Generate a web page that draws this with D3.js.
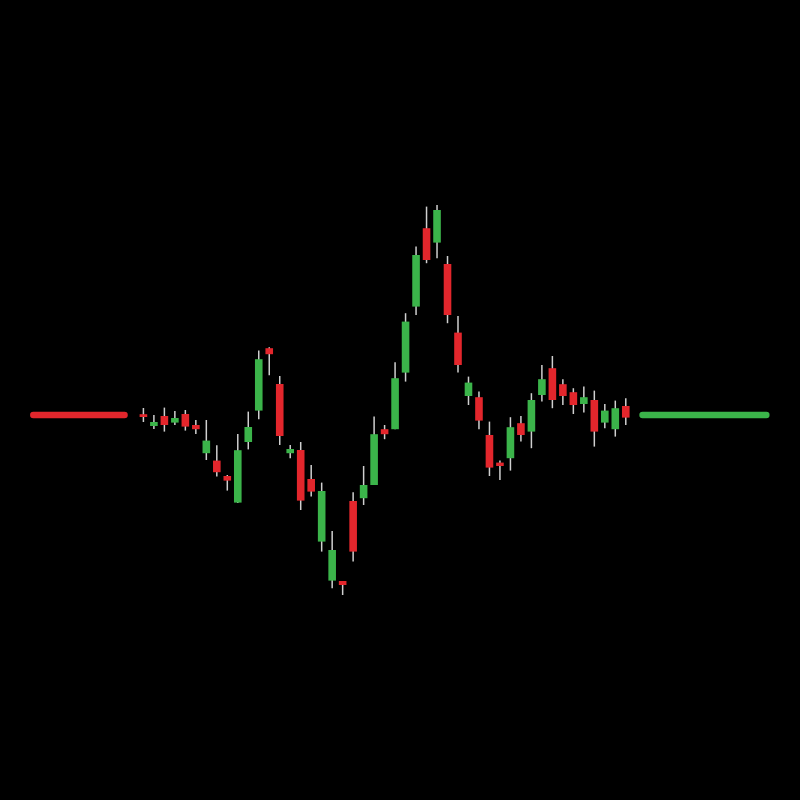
<!DOCTYPE html>
<html>
<head>
<meta charset="utf-8">
<script src="https://cdn.jsdelivr.net/npm/d3@7/dist/d3.min.js"></script>
<style>
  html, body { margin: 0; padding: 0; background: #000; }
  svg { display: block; }
</style>
</head>
<body>
<svg id="chart" width="800" height="800"></svg>
<script>
// Candle OHLC data (index 0..46)
const opens  = [100.4, 94.5, 99.5, 96.2, 100.5, 95.0, 80.9, 77.2, 69.5, 56.2, 86.5, 102.2, 133.4, 115.5, 80.9, 82.5, 68.0, 36.7, 17.2, 17.0, 57.0, 58.4, 65.0, 92.9, 92.9, 121.2, 154.2, 193.4, 186.2, 175.5, 141.2, 109.5, 108.9, 90.0, 76.2, 78.4, 95.9, 91.7, 110.0, 123.4, 115.4, 111.4, 105.5, 107.5, 96.2, 92.9, 104.5];
const closes = [99.0, 96.5, 95.0, 98.5, 94.2, 92.9, 87.2, 71.4, 67.2, 82.4, 94.0, 127.9, 130.4, 89.5, 83.0, 57.2, 61.7, 62.0, 32.5, 15.0, 31.7, 65.0, 90.4, 90.4, 118.4, 146.7, 180.0, 177.5, 202.5, 150.0, 125.0, 116.2, 97.2, 73.7, 74.5, 93.9, 90.0, 107.5, 117.9, 107.5, 109.5, 105.0, 108.9, 91.7, 102.2, 103.4, 98.7];
const highs  = [103.5, 100.0, 103.7, 102.0, 102.5, 97.5, 97.5, 84.9, 70.0, 90.5, 101.7, 132.2, 133.9, 119.5, 85.0, 86.5, 75.0, 66.2, 42.0, 17.0, 61.4, 74.5, 99.2, 95.0, 126.4, 150.9, 184.2, 204.2, 205.0, 179.5, 149.5, 119.2, 111.7, 96.7, 77.2, 98.9, 99.5, 110.9, 125.0, 129.5, 117.9, 113.4, 114.2, 112.2, 105.5, 107.2, 108.4];
const lows   = [96.5, 93.0, 91.7, 95.0, 92.2, 90.5, 77.5, 69.2, 62.2, 56.0, 82.8, 97.9, 119.9, 85.0, 78.4, 52.5, 59.2, 31.7, 13.4, 10.0, 26.7, 55.0, 65.0, 87.9, 92.9, 116.7, 150.0, 175.9, 178.4, 145.9, 121.2, 105.0, 92.9, 69.5, 67.5, 72.2, 86.7, 83.4, 106.7, 103.4, 105.0, 100.5, 101.2, 84.2, 93.4, 89.2, 95.0];

// Flat reference lines (in candle-index units and price)
const leftLine  = { from: -10.5, to: -1.8, price: 100 };
const rightLine = { from: 47.6,  to: 59.4, price: 100 };

const UP = "#3bb44a", DOWN = "#e3262c", WICK = "#cfcfcf";

const candles = opens.map((o, i) => ({ i, o, c: closes[i], h: highs[i], l: lows[i] }));

const svg = d3.select("#chart");
svg.append("rect").attr("width", 800).attr("height", 800).attr("fill", "#000");

const x = d3.scaleLinear().domain([-10.5, 59.4]).range([33.3, 766.3]);
const y = d3.scaleLinear().domain([0, 200]).range([615, 215]);
const bodyW = 7.6;

// flat lines
const line = d3.line().x(d => x(d[0])).y(d => y(d[1]));
svg.append("path")
  .attr("d", line([[leftLine.from, leftLine.price], [leftLine.to, leftLine.price]]))
  .attr("stroke", DOWN).attr("stroke-width", 6.5).attr("stroke-linecap", "round").attr("fill", "none");
svg.append("path")
  .attr("d", line([[rightLine.from, rightLine.price], [rightLine.to, rightLine.price]]))
  .attr("stroke", UP).attr("stroke-width", 6.5).attr("stroke-linecap", "round").attr("fill", "none");

const g = svg.append("g").selectAll("g").data(candles).join("g");

g.append("line")
  .attr("x1", d => x(d.i)).attr("x2", d => x(d.i))
  .attr("y1", d => y(d.h)).attr("y2", d => y(d.l))
  .attr("stroke", WICK).attr("stroke-width", 1.5);

g.append("rect")
  .attr("x", d => x(d.i) - bodyW / 2)
  .attr("width", bodyW)
  .attr("y", d => y(Math.max(d.o, d.c)))
  .attr("height", d => Math.max(1, Math.abs(y(d.o) - y(d.c))))
  .attr("fill", d => d.c >= d.o ? UP : DOWN);
</script>
</body>
</html>
